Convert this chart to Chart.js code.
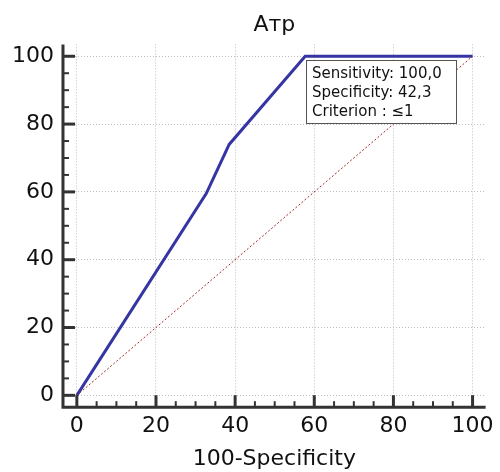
<!DOCTYPE html>
<html>
<head>
<meta charset="utf-8">
<script src="https://cdn.jsdelivr.net/npm/chart.js@4"></script>
<style>
  html, body { margin: 0; padding: 0; background: #fff; }
  #wrap { width: 500px; height: 472px; }
</style>
</head>
<body>
<div id="wrap"><canvas id="roc"></canvas></div>
<script>
const rocX = [0, 32.7, 38.5, 57.7, 100];
const rocY = [0, 59.5, 74, 100, 100];
const diagX = [0, 100];
const diagY = [0, 100];
const majorTicks = [0, 20, 40, 60, 80, 100];
const boxLines = ['Sensitivity: 100,0', 'Specificity: 42,3', 'Criterion : \u22641'];

const FONT = '"DejaVu Sans", Arial, sans-serif';

// solid axis lines plus ticks pointing inward, major every 20, minor every 5
const axisMarks = {
    id: 'axisMarks',
    afterDraw(chart) {
        const ctx = chart.ctx;
        const xs = chart.scales.x, ys = chart.scales.y;
        const area = chart.chartArea;
        ctx.save();
        ctx.strokeStyle = '#333';
        ctx.lineWidth = 3;
        ctx.beginPath();
        ctx.moveTo(area.left, area.top);
        ctx.lineTo(area.left, area.bottom);
        ctx.lineTo(area.right, area.bottom);
        ctx.stroke();
        for (let v = 0; v <= 100; v += 5) {
            const major = v % 20 === 0;
            ctx.lineWidth = major ? 3 : 2;
            const len = major ? 12 : 6;
            const px = xs.getPixelForValue(v);
            ctx.beginPath();
            ctx.moveTo(px, area.bottom);
            ctx.lineTo(px, area.bottom - len);
            ctx.stroke();
            const py = ys.getPixelForValue(v);
            ctx.beginPath();
            ctx.moveTo(area.left, py);
            ctx.lineTo(area.left + len, py);
            ctx.stroke();
        }
        ctx.restore();
    }
};

const infoBox = {
    id: 'infoBox',
    afterDatasetsDraw(chart) {
        const ctx = chart.ctx;
        const x0 = Math.round(chart.scales.x.getPixelForValue(57.9));
        const y0 = Math.round(chart.scales.y.getPixelForValue(98.8));
        const w = 150, h = 63;
        ctx.save();
        ctx.fillStyle = '#fff';
        ctx.fillRect(x0, y0, w, h);
        ctx.strokeStyle = '#555';
        ctx.lineWidth = 1;
        ctx.strokeRect(x0 + 0.5, y0 + 0.5, w, h);
        ctx.fillStyle = '#111';
        ctx.font = '15px ' + FONT;
        ctx.textBaseline = 'middle';
        boxLines.forEach((t, i) => ctx.fillText(t, x0 + 6, y0 + 14 + i * 19));
        ctx.restore();
    }
};

new Chart(document.getElementById('roc'), {
    type: 'scatter',
    data: {
        datasets: [
            {
                data: diagX.map((x, i) => ({ x: x, y: diagY[i] })),
                showLine: true,
                borderColor: '#a52a2a',
                borderWidth: 1,
                borderDash: [2, 2],
                pointRadius: 0
            },
            {
                data: rocX.map((x, i) => ({ x: x, y: rocY[i] })),
                showLine: true,
                borderColor: '#3535a3',
                borderWidth: 3,
                pointRadius: 0
            }
        ]
    },
    options: {
        responsive: true,
        maintainAspectRatio: false,
        animation: false,
        layout: { padding: { left: 3, right: 0, top: 0, bottom: 0 } },
        plugins: {
            legend: { display: false },
            tooltip: { enabled: false },
            title: {
                display: true,
                fullSize: false,
                text: 'Атр',
                font: { family: FONT, size: 22, weight: 'normal' },
                color: '#111',
                padding: { top: 12, bottom: 6 }
            }
        },
        scales: {
            x: {
                type: 'linear',
                min: -3.5,
                max: 103.3,
                afterBuildTicks: s => { s.ticks = majorTicks.map(v => ({ value: v })); },
                grid: {
                    color: '#bdbdbd',
                    lineWidth: 1,
                    drawTicks: false
                },
                border: { display: false, dash: [1, 2] },
                ticks: {
                    padding: 6,
                    color: '#111',
                    font: { family: FONT, size: 22 },
                    maxRotation: 0
                },
                title: {
                    display: true,
                    text: '100-Specificity',
                    color: '#111',
                    font: { family: FONT, size: 22 },
                    padding: { top: 0, bottom: 0 }
                }
            },
            y: {
                type: 'linear',
                min: -3.5,
                max: 103.5,
                afterBuildTicks: s => { s.ticks = majorTicks.map(v => ({ value: v })); },
                grid: {
                    color: '#bdbdbd',
                    lineWidth: 1,
                    drawTicks: false
                },
                border: { display: false, dash: [1, 2] },
                ticks: {
                    padding: 9,
                    color: '#111',
                    font: { family: FONT, size: 22 }
                }
            }
        }
    },
    plugins: [axisMarks, infoBox]
});
</script>
</body>
</html>
